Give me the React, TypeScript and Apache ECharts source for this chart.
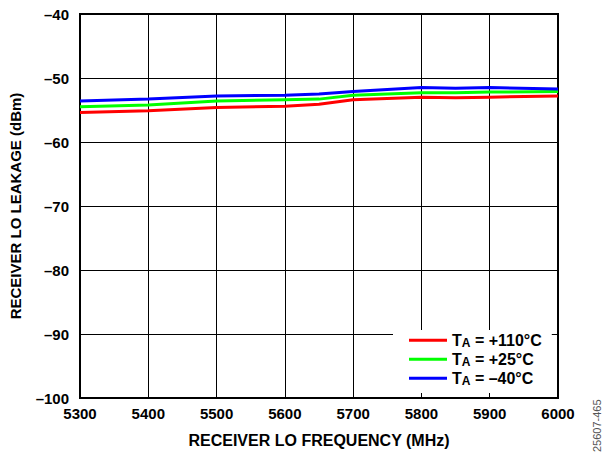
import React, { useEffect, useRef } from "react";
import * as echarts from "echarts";

const freqs = [5300, 5400, 5500, 5600, 5650, 5700, 5800, 5850, 5900, 6000];
const redVals = [-55.4, -55.1, -54.6, -54.4, -54.1, -53.4, -53.0, -53.1, -53.0, -52.8];
const greenVals = [-54.5, -54.2, -53.6, -53.4, -53.3, -52.7, -52.3, -52.3, -52.2, -52.1];
const blueVals = [-53.6, -53.3, -52.8, -52.7, -52.5, -52.1, -51.5, -51.6, -51.5, -51.7];
const seriesNames = ["T_A = +110°C", "T_A = +25°C", "T_A = –40°C"];
const seriesColors = ["#ff0000", "#00ff00", "#0000ff"];
const xTitle = "RECEIVER LO FREQUENCY (MHz)";
const yTitle = "RECEIVER LO LEAKAGE (dBm)";
const figId = "25607-465";

const FONT = "'Liberation Sans', Arial, sans-serif";

export default function App() {
  const ref = useRef<HTMLDivElement>(null);
  useEffect(() => {
    if (!ref.current) return;
    const chart = echarts.init(ref.current, null, { renderer: "svg" });
    const all = [redVals, greenVals, blueVals];
    chart.setOption({
      animation: false,
      backgroundColor: "#fff",
      textStyle: { fontFamily: FONT },
      grid: {
        left: 79,
        top: 14,
        width: 479,
        height: 384,
        show: true,
        borderColor: "#000",
        borderWidth: 2,
        backgroundColor: "transparent",
        containLabel: false,
      },
      xAxis: {
        type: "value",
        min: 5300,
        max: 6000,
        interval: 100,
        name: xTitle,
        nameLocation: "middle",
        nameGap: 34,
        nameTextStyle: { fontFamily: FONT, fontWeight: "bold", fontSize: 16, color: "#000" },
        axisLine: { show: false },
        axisTick: { show: false },
        axisLabel: {
          fontFamily: FONT,
          fontWeight: "bold",
          fontSize: 15,
          color: "#000",
          margin: 8,
          formatter: (v: number) => String(v),
        },
        splitLine: { show: true, lineStyle: { color: "#000", width: 1 } },
      },
      yAxis: {
        type: "value",
        min: -100,
        max: -40,
        interval: 10,
        name: yTitle,
        nameLocation: "middle",
        nameGap: 57,
        nameTextStyle: { fontFamily: FONT, fontWeight: "bold", fontSize: 15, color: "#000" },
        axisLine: { show: false },
        axisTick: { show: false },
        axisLabel: {
          fontFamily: FONT,
          fontWeight: "bold",
          fontSize: 15,
          color: "#000",
          margin: 11,
          formatter: (v: number) => String(v).replace("-", "–"),
        },
        splitLine: { show: true, lineStyle: { color: "#000", width: 1 } },
      },
      legend: {
        orient: "vertical",
        left: 393,
        top: 330,
        backgroundColor: "#fff",
        padding: [0, 10, 6, 16],
        itemGap: 0,
        itemWidth: 38,
        itemHeight: 3,
        icon: "rect",
        data: seriesNames,
        formatter: (name: string) => {
          const rest = name.slice(3);
          return `{t|T}{s|A}{t|${rest}}`;
        },
        textStyle: {
          rich: {
            t: { fontFamily: FONT, fontWeight: "bold", fontSize: 16, color: "#000", lineHeight: 17.5 },
            s: {
              fontFamily: FONT,
              fontWeight: "bold",
              fontSize: 12,
              color: "#000",
              verticalAlign: "bottom",
              padding: [7, 0, 0, 0],
              lineHeight: 17.5,
            },
          },
        },
      },
      series: seriesNames.map((n, i) => ({
        name: n,
        type: "line",
        data: freqs.map((f, j) => [f, all[i][j]]),
        showSymbol: false,
        symbol: "none",
        lineStyle: { color: seriesColors[i], width: 3 },
        itemStyle: { color: seriesColors[i] },
        z: 3 + i,
      })),
      graphic: [
        {
          type: "text",
          x: 597,
          y: 452,
          rotation: Math.PI / 2,
          style: {
            text: figId,
            font: `11px ${FONT}`,
            fill: "#555",
            textAlign: "left",
            textVerticalAlign: "middle",
          },
        },
      ],
    });
    return () => chart.dispose();
  }, []);
  return <div ref={ref} style={{ width: 603, height: 453, position: "absolute", left: 0, top: 0 }} />;
}
